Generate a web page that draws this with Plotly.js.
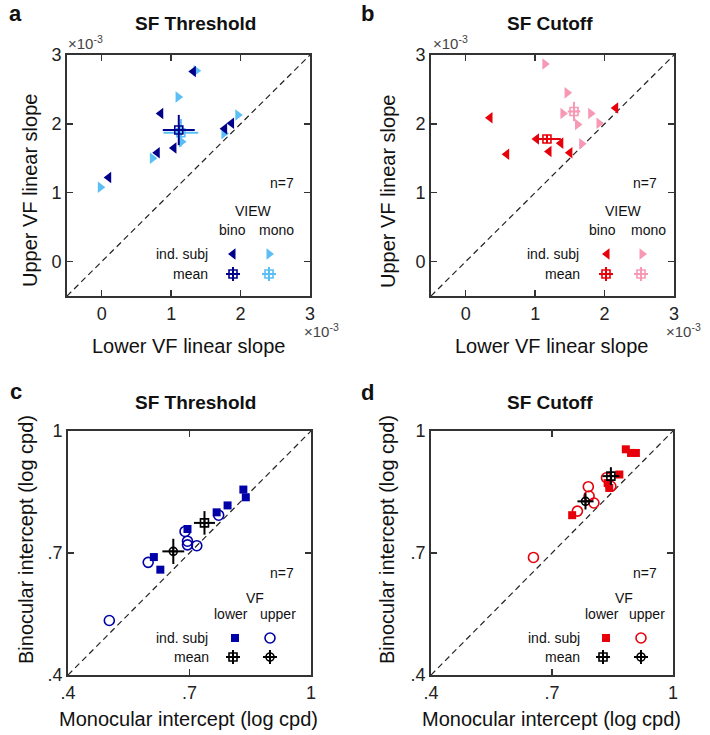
<!DOCTYPE html>
<html>
<head>
<meta charset="utf-8">
<script src="https://cdn.plot.ly/plotly-3.0.1.min.js"></script>
<style>html,body{margin:0;padding:0;background:#fff;}#chart{width:710px;height:735px;}</style>
</head>
<body>
<div id="chart"></div>
<script>
// ---------- DATA ----------
// Panel a: SF Threshold, linear slopes (units of 10^-3)
const aBinoX = [1.32, 0.85, 1.77, 1.87, 1.04, 0.80, 0.10];
const aBinoY = [2.76, 2.15, 1.93, 2.01, 1.65, 1.58, 1.22];
const aMonoX = [1.36, 1.10, 1.96, 1.76, 1.15, 0.73, -0.02];
const aMonoY = [2.77, 2.39, 2.13, 1.86, 1.74, 1.50, 1.08];
const aMeanBino = {x: 1.11, y: 1.91, ex: 0.23, ey: 0.22};
const aMeanMono = {x: 1.14, y: 1.87, ex: 0.25, ey: 0.20};

// Panel b: SF Cutoff, linear slopes (units of 10^-3)
const bBinoX = [0.35, 0.59, 1.02, 1.20, 1.37, 1.50, 2.16];
const bBinoY = [2.09, 1.56, 1.78, 1.60, 1.72, 1.58, 2.23];
const bMonoX = [1.14, 1.46, 1.40, 1.80, 1.61, 1.92, 1.67];
const bMonoY = [2.87, 2.45, 2.15, 2.15, 1.99, 2.01, 1.71];
const bMeanBino = {x: 1.17, y: 1.78, ex: 0.20, ey: 0.06};
const bMeanMono = {x: 1.56, y: 2.18, ex: 0.09, ey: 0.14};

// Panel c: SF Threshold, intercepts (log cpd)
const cLowerX = [0.833, 0.839, 0.794, 0.767, 0.695, 0.612, 0.628];
const cLowerY = [0.856, 0.837, 0.817, 0.800, 0.759, 0.690, 0.659];
const cUpperX = [0.772, 0.689, 0.695, 0.695, 0.718, 0.598, 0.502];
const cUpperY = [0.793, 0.753, 0.729, 0.720, 0.718, 0.677, 0.534];
const cMeanLower = {x: 0.737, y: 0.774, ex: 0.026, ey: 0.029};
const cMeanUpper = {x: 0.660, y: 0.704, ex: 0.027, ey: 0.031};

// Panel d: SF Cutoff, intercepts (log cpd)
const dLowerX = [0.883, 0.896, 0.908, 0.867, 0.842, 0.750, 0.838];
const dLowerY = [0.955, 0.946, 0.946, 0.893, 0.860, 0.793, 0.872];
const dUpperX = [0.835, 0.790, 0.792, 0.804, 0.763, 0.846, 0.654];
const dUpperY = [0.885, 0.863, 0.840, 0.823, 0.803, 0.864, 0.689];
const dMeanLower = {x: 0.846, y: 0.889, ex: 0.021, ey: 0.022};
const dMeanUpper = {x: 0.783, y: 0.827, ex: 0.020, ey: 0.020};

// Tick labels
const slopeTickVals = [0, 1, 2, 3];
const slopeTickText = ['0', '1', '2', '3'];
const interTickVals = [0.4, 0.7, 1.0];
const interTickText = ['.4', '.7', '1'];

// ---------- STYLE ----------
const FONT = 'Liberation Sans, Arial, Helvetica, sans-serif';
const NAVY = '#00008b';
const LBLUE = '#5bbff5';
const RED = '#e6000a';
const PINK = '#f799b5';
const CBLUE = '#0000a8';
const BLACK = '#000000';
const W = 710, H = 735;

function dom(px0, px1, py0, py1) {
  return {x: [px0 / W, px1 / W], y: [1 - py1 / H, 1 - py0 / H]};
}
const D = {
  a: dom(67, 310, 55, 296),
  b: dom(431, 674, 55, 296),
  c: dom(68, 311, 431, 675),
  d: dom(431, 673, 431, 675)
};

function axis(domain, range, tv, tt) {
  return {
    domain: domain, range: range, tickvals: tv, ticktext: tt,
    ticks: 'inside', ticklen: 6, tickwidth: 1.3, tickcolor: '#333',
    showline: true, linewidth: 2, linecolor: '#333', mirror: 'ticks',
    showgrid: false, zeroline: false, fixedrange: true,
    tickfont: {family: FONT, size: 18, color: '#222'}
  };
}

function pts(x, y, ax, sym, color, size, open) {
  return {
    type: 'scatter', mode: 'markers', x: x, y: y, xaxis: 'x' + ax, yaxis: 'y' + ax,
    marker: open ? {symbol: sym, size: size, color: color, line: {color: color, width: 1.6}}
                 : {symbol: sym, size: size, color: color, line: {width: 0}},
    showlegend: false, hoverinfo: 'skip', cliponaxis: false
  };
}
function meanTrace(m, ax, sym, color) {
  return {
    type: 'scatter', mode: 'markers', x: [m.x], y: [m.y], xaxis: 'x' + ax, yaxis: 'y' + ax,
    marker: {symbol: sym, size: 8, color: color, line: {color: color, width: 1.6}},
    error_x: {type: 'data', array: [m.ex], visible: true, color: color, thickness: 2, width: 0},
    error_y: {type: 'data', array: [m.ey], visible: true, color: color, thickness: 2, width: 0},
    showlegend: false, hoverinfo: 'skip'
  };
}
function diag(ax, lo, hi) {
  return {
    type: 'scatter', mode: 'lines', x: [lo, hi], y: [lo, hi], xaxis: 'x' + ax, yaxis: 'y' + ax,
    line: {color: '#222', width: 1.2, dash: '6px,4px'}, showlegend: false, hoverinfo: 'skip'
  };
}

// Legend-key glyphs, placed in a pixel-coordinate overlay (axis 5)
function key(px, py, sym, color, size, open, err) {
  const t = {
    type: 'scatter', mode: 'markers', x: [px], y: [py], xaxis: 'x5', yaxis: 'y5',
    marker: open ? {symbol: sym, size: size, color: color, line: {color: color, width: 1.6}}
                 : {symbol: sym, size: size, color: color, line: {width: 0}},
    showlegend: false, hoverinfo: 'skip', cliponaxis: false
  };
  if (err) {
    t.error_x = {type: 'data', array: [err], visible: true, color: color, thickness: 2, width: 0};
    t.error_y = {type: 'data', array: [err], visible: true, color: color, thickness: 2, width: 0};
  }
  return t;
}

const data = [
  // panel a
  diag('', -0.5, 3),
  pts(aMonoX, aMonoY, '', 'triangle-right', LBLUE, 10, false),
  meanTrace(aMeanMono, '', 'square-cross-open', LBLUE),
  pts(aBinoX, aBinoY, '', 'triangle-left', NAVY, 10, false),
  meanTrace(aMeanBino, '', 'square-cross-open', NAVY),
  // panel b
  diag('2', -0.5, 3),
  pts(bMonoX, bMonoY, '2', 'triangle-right', PINK, 10, false),
  meanTrace(bMeanMono, '2', 'square-cross-open', PINK),
  pts(bBinoX, bBinoY, '2', 'triangle-left', RED, 10, false),
  meanTrace(bMeanBino, '2', 'square-cross-open', RED),
  // panel c
  diag('3', 0.4, 1),
  pts(cUpperX, cUpperY, '3', 'circle-open', CBLUE, 10, true),
  pts(cLowerX, cLowerY, '3', 'square', CBLUE, 8, false),
  meanTrace(cMeanLower, '3', 'square-cross-open', BLACK),
  meanTrace(cMeanUpper, '3', 'circle-cross-open', BLACK),
  // panel d
  diag('4', 0.4, 1),
  pts(dUpperX, dUpperY, '4', 'circle-open', RED, 10, true),
  pts(dLowerX, dLowerY, '4', 'square', RED, 8, false),
  meanTrace(dMeanLower, '4', 'square-cross-open', BLACK),
  meanTrace(dMeanUpper, '4', 'circle-cross-open', BLACK),
  // legend keys
  key(233, 254, 'triangle-left', NAVY, 10, false),
  key(269, 254, 'triangle-right', LBLUE, 10, false),
  key(233, 274, 'square-cross-open', NAVY, 8, true, 7),
  key(269, 274, 'square-cross-open', LBLUE, 8, true, 7),
  key(607, 254, 'triangle-left', RED, 10, false),
  key(642, 254, 'triangle-right', PINK, 10, false),
  key(606, 274, 'square-cross-open', RED, 8, true, 7),
  key(641, 274, 'square-cross-open', PINK, 8, true, 7),
  key(235, 638, 'square', CBLUE, 8, false),
  key(270, 638, 'circle-open', CBLUE, 10, true),
  key(233, 657, 'square-cross-open', BLACK, 8, true, 7),
  key(270, 657, 'circle-cross-open', BLACK, 8, true, 7),
  key(606, 638, 'square', RED, 8, false),
  key(641, 638, 'circle-open', RED, 10, true),
  key(603, 657, 'square-cross-open', BLACK, 8, true, 7),
  key(641, 657, 'circle-cross-open', BLACK, 8, true, 7)
];

function txt(text, x, y, size, opts) {
  return Object.assign({
    text: text, x: x, y: y, xref: 'x5', yref: 'y5', showarrow: false,
    font: {family: FONT, size: size, color: '#111'}, xanchor: 'center', yanchor: 'middle'
  }, opts || {});
}
const bold = (s) => '<b>' + s + '</b>';
const XE = '×10<sup>-3</sup>';
const xeFont = {family: FONT, size: 15, color: '#444'};

const annotations = [
  // panel letters
  txt(bold('a'), 15, 13, 22), txt(bold('b'), 367, 13, 22),
  txt(bold('c'), 16, 391, 22), txt(bold('d'), 367, 392, 22),
  // titles
  txt(bold('SF Threshold'), 195, 23, 19), txt(bold('SF Cutoff'), 550, 23, 19),
  txt(bold('SF Threshold'), 195, 402, 19), txt(bold('SF Cutoff'), 550, 402, 19),
  // axis titles
  txt('Lower VF linear slope', 188, 346, 20), txt('Lower VF linear slope', 551, 346, 20),
  txt('Upper VF linear slope', 30, 191, 20, {textangle: -90}),
  txt('Upper VF linear slope', 388, 192, 20, {textangle: -90}),
  txt('Monocular intercept (log cpd)', 188, 719, 20), txt('Monocular intercept (log cpd)', 551, 719, 20),
  txt('Binocular intercept (log cpd)', 26, 540, 20, {textangle: -90}),
  txt('Binocular intercept (log cpd)', 387, 540, 20, {textangle: -90}),
  // exponent labels
  txt(XE, 66, 42, 15, {xanchor: 'left', font: xeFont}),
  txt(XE, 302, 330, 15, {xanchor: 'left', font: xeFont}),
  txt(XE, 431, 42, 15, {xanchor: 'left', font: xeFont}),
  txt(XE, 664, 330, 15, {xanchor: 'left', font: xeFont}),
  // legends a
  txt('n=7', 282, 183, 14), txt('VIEW', 253, 211, 14), txt('bino', 232, 230, 14), txt('mono', 276, 230, 14),
  txt('ind. subj', 210, 254, 14, {xanchor: 'right'}), txt('mean', 210, 274, 14, {xanchor: 'right'}),
  // legends b
  txt('n=7', 645, 183, 14), txt('VIEW', 623, 211, 14), txt('bino', 602, 230, 14), txt('mono', 648, 230, 14),
  txt('ind. subj', 581, 254, 14, {xanchor: 'right'}), txt('mean', 582, 274, 14, {xanchor: 'right'}),
  // legends c
  txt('n=7', 282, 573, 14), txt('VF', 255, 598, 14), txt('lower', 231, 614, 14), txt('upper', 278, 614, 14),
  txt('ind. subj', 210, 638, 14, {xanchor: 'right'}), txt('mean', 211, 657, 14, {xanchor: 'right'}),
  // legends d
  txt('n=7', 645, 573, 14), txt('VF', 624, 598, 14), txt('lower', 602, 614, 14), txt('upper', 647, 614, 14),
  txt('ind. subj', 582, 638, 14, {xanchor: 'right'}), txt('mean', 582, 657, 14, {xanchor: 'right'})
];

const layout = {
  width: W, height: H, margin: {l: 0, r: 0, t: 0, b: 0},
  paper_bgcolor: '#fff', plot_bgcolor: 'rgba(0,0,0,0)', showlegend: false,
  xaxis: Object.assign(axis(D.a.x, [-0.5, 3], slopeTickVals, slopeTickText), {anchor: 'y'}),
  yaxis: Object.assign(axis(D.a.y, [-0.5, 3], slopeTickVals, slopeTickText), {anchor: 'x'}),
  xaxis2: Object.assign(axis(D.b.x, [-0.5, 3], slopeTickVals, slopeTickText), {anchor: 'y2'}),
  yaxis2: Object.assign(axis(D.b.y, [-0.5, 3], slopeTickVals, slopeTickText), {anchor: 'x2'}),
  xaxis3: Object.assign(axis(D.c.x, [0.4, 1], interTickVals, interTickText), {anchor: 'y3'}),
  yaxis3: Object.assign(axis(D.c.y, [0.4, 1], interTickVals, interTickText), {anchor: 'x3'}),
  xaxis4: Object.assign(axis(D.d.x, [0.4, 1], interTickVals, interTickText), {anchor: 'y4'}),
  yaxis4: Object.assign(axis(D.d.y, [0.4, 1], interTickVals, interTickText), {anchor: 'x4'}),
  xaxis5: {domain: [0, 1], range: [0, W], visible: false, fixedrange: true, anchor: 'y5'},
  yaxis5: {domain: [0, 1], range: [H, 0], visible: false, fixedrange: true, anchor: 'x5'},
  annotations: annotations
};

Plotly.newPlot('chart', data, layout, {staticPlot: true, displayModeBar: false});
</script>
</body>
</html>
